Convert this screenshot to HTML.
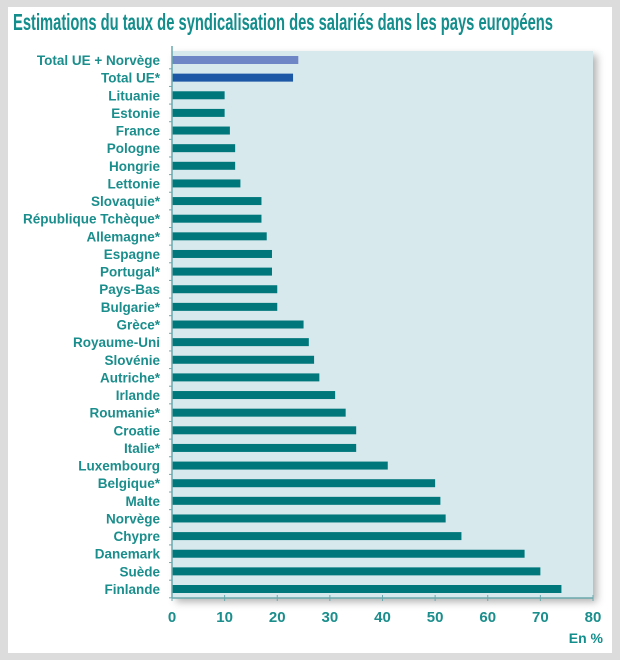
<!DOCTYPE html>
<html><head><meta charset="utf-8">
<style>
html,body{margin:0;padding:0;background:#dcdcdc;width:620px;height:660px;overflow:hidden}
svg{display:block;font-family:"Liberation Sans",sans-serif}
</style></head>
<body>
<svg id="chart" width="620" height="660">
<defs><filter id="sh" x="-5%" y="-5%" width="115%" height="115%"><feDropShadow dx="4" dy="4" stdDeviation="4" flood-color="#000" flood-opacity="0.3"/></filter></defs>
<rect x="8" y="7" width="604" height="646" fill="#ffffff"/>
<text x="13" y="30" font-size="23" font-weight="bold" fill="#138e8c" textLength="540" lengthAdjust="spacingAndGlyphs">Estimations du taux de syndicalisation des salariés dans les pays européens</text>
<rect x="172" y="51" width="421" height="547" fill="#d8e9ee" filter="url(#sh)"/>
<g id="bars"></g>
<g id="axis"></g>
<text x="603" y="643" font-size="14" font-weight="bold" fill="#138e8c" text-anchor="end">En %</text>
</svg>
<script>
const categories=["Total UE + Norvège","Total UE*","Lituanie","Estonie","France","Pologne","Hongrie","Lettonie","Slovaquie*","République Tchèque*","Allemagne*","Espagne","Portugal*","Pays-Bas","Bulgarie*","Grèce*","Royaume-Uni","Slovénie","Autriche*","Irlande","Roumanie*","Croatie","Italie*","Luxembourg","Belgique*","Malte","Norvège","Chypre","Danemark","Suède","Finlande"];
const values=[24,23,10,10,11,12,12,13,17,17,18,19,19,20,20,25,26,27,28,31,33,35,35,41,50,51,52,55,67,70,74];
const ticks=[0,10,20,30,40,50,60,70,80];
const NS="http://www.w3.org/2000/svg";
const x0=172,x1=593,yTop=51,yBot=598,first=60,step=(589-60)/30;
function xs(v){return x0+(v/80)*(x1-x0);}
function ys(i){return first+i*step;}
const bars=document.getElementById('bars'),axis=document.getElementById('axis');
function mk(tag,attrs,parent){const e=document.createElementNS(NS,tag);for(const k in attrs)e.setAttribute(k,attrs[k]);parent.appendChild(e);return e;}
categories.forEach((c,i)=>{
  const col=i===0?"#6f86c6":(i===1?"#1d58a6":"#00787b");
  const r=mk('rect',{x:xs(0),y:ys(i)-4,width:xs(values[i])-xs(0),height:8,fill:col},bars);
  
  
  const t=mk('text',{x:160,y:ys(i)+5,'font-size':13.5,'font-weight':'bold',fill:'#1a8e8c','text-anchor':'end'},bars);
  t.textContent=c;
  
  
  const tk=mk('line',{x1:x0-3,x2:x0,y1:ys(i)+step/2,y2:ys(i)+step/2,stroke:'#6aa9ad','stroke-width':1},axis);
  
  
});
const ya=mk('line',{x1:x0,x2:x0,y1:yTop-5,y2:yBot,stroke:'#6aa9ad','stroke-width':1.5},axis);


const xa=mk('line',{x1:x0,x2:x1,y1:yBot,y2:yBot,stroke:'#6aa9ad','stroke-width':1.5},axis);


ticks.forEach(v=>{
  const l=mk('line',{x1:xs(v),x2:xs(v),y1:yBot-3,y2:yBot+3,stroke:'#6aa9ad','stroke-width':1},axis);
  
  
  const t=mk('text',{x:xs(v),y:yBot+24,'font-size':15,'font-weight':'bold',fill:'#1a8e8c','text-anchor':'middle'},axis);
  t.textContent=v;
  
  
});
</script>
</body></html>
